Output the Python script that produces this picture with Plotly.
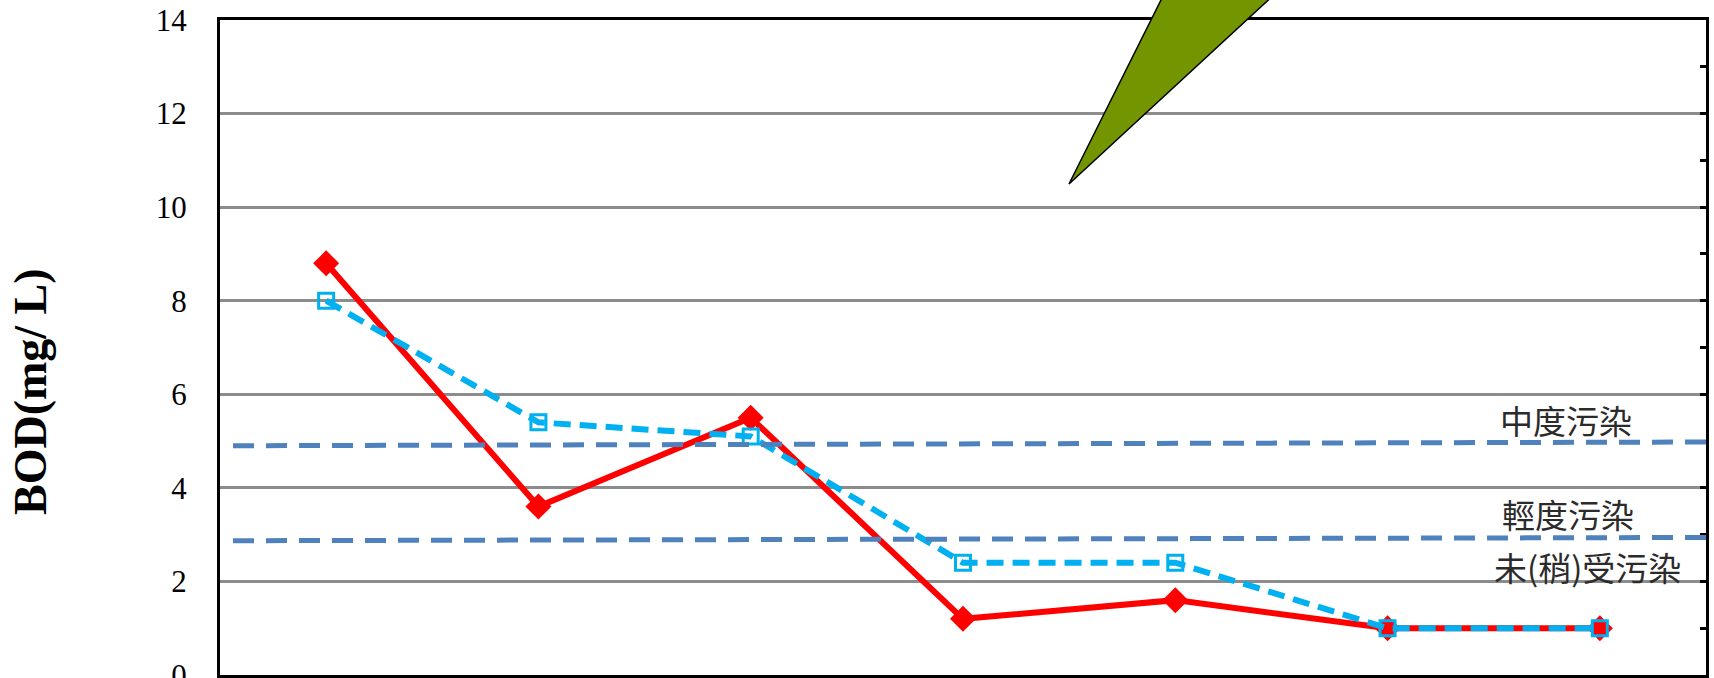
import plotly.graph_objects as go

# Sampling stations along the river (x positions) and BOD readings (mg/L)
stations = [1, 2, 3, 4, 5, 6, 7]
bod_series_a = [8.8, 3.6, 5.5, 1.2, 1.6, 1.0, 1.0]
bod_series_b = [8.0, 5.4, 5.1, 2.4, 2.4, 1.0, 1.0]

# Pollution-class boundaries as drawn (left end, right end)
moderate_line = [4.90, 4.98]
light_line = [2.87, 2.94]

# Class labels and where they sit (station position, BOD value)
class_labels = ["中度污染", "輕度污染", "未(稍)受污染"]
class_label_x = [6.84, 6.85, 6.94]
class_label_y = [5.46, 3.45, 2.30]

y_ticks = [0, 2, 4, 6, 8, 10, 12, 14]
y_range = [0, 14]
x_range = [0.5, 7.5]
x_boundaries = [0.5, 1.5, 2.5, 3.5, 4.5, 5.5, 6.5, 7.5]

W, H = 1714, 678
ML, MR, MT, MB = 220, 8, 20, 3

fig = go.Figure()

fig.add_trace(go.Scatter(
    x=stations, y=bod_series_a, mode="lines+markers",
    line=dict(color="#FF0000", width=6),
    marker=dict(symbol="diamond", size=20, color="#FF0000"),
    showlegend=False, cliponaxis=False,
))
fig.add_trace(go.Scatter(
    x=stations, y=bod_series_b, mode="lines+markers",
    line=dict(color="#00B0F0", width=6, dash="17px,9px"),
    marker=dict(symbol="square-open", size=15, color="#00B0F0",
                line=dict(color="#00B0F0", width=3)),
    showlegend=False, cliponaxis=False,
))

# Secondary axis only carries the inner minor ticks on the right frame
fig.add_trace(go.Scatter(x=[None], y=[None], yaxis="y2", showlegend=False))

# Dashed class boundaries, starting just right of the axis and running off the edge
for line_vals in (moderate_line, light_line):
    fig.add_shape(
        type="line", xref="paper", yref="y",
        x0=(233 - ML) / (W - ML - MR), x1=(W - ML) / (W - ML - MR),
        y0=line_vals[0], y1=line_vals[1],
        line=dict(color="#4F81BD", width=5, dash="21px,12px"),
        layer="above",
    )

# Callout pointer coming down from above the frame
pw = W - ML - MR
ph = H - MT - MB
def px(xp):
    return (xp - ML) / pw
def py(yp):
    return (H - MB - yp) / ph
fig.add_shape(
    type="path", xref="paper", yref="paper",
    path=f"M {px(1069)} {py(184)} L {px(1171)} {py(-20)} L {px(1290)} {py(-20)} Z",
    fillcolor="#739600", line=dict(color="#000000", width=1.5),
    layer="above",
)

for txt, xv, yv in zip(class_labels, class_label_x, class_label_y):
    fig.add_annotation(
        x=xv, y=yv, xref="x", yref="y", text=txt, showarrow=False,
        font=dict(family="Noto Sans CJK TC", size=33, color="#2B2B2B"),
        xanchor="center", yanchor="middle",
    )

fig.add_annotation(
    x=px(30), y=py(392), xref="paper", yref="paper",
    text="<b>BOD(mg/ L)</b>", textangle=-90, showarrow=False,
    font=dict(family="Liberation Serif", size=46, color="#000000"),
    xanchor="center", yanchor="middle",
)

fig.update_layout(
    width=W, height=H,
    margin=dict(l=ML, r=MR, t=MT, b=MB, pad=0, autoexpand=False),
    paper_bgcolor="white", plot_bgcolor="white",
    xaxis=dict(
        range=x_range, tickmode="array", tickvals=x_boundaries,
        showticklabels=False, ticks="outside", ticklen=12, tickwidth=2.5,
        tickcolor="#000000", showgrid=False, zeroline=False,
        showline=True, linecolor="#000000", linewidth=3, mirror=True,
        fixedrange=True, automargin=False,
    ),
    yaxis=dict(
        range=y_range, tickmode="array", tickvals=y_ticks,
        ticks="", ticklabelstandoff=24, ticklabeloverflow="allow",
        tickfont=dict(family="Liberation Serif", size=31, color="#000000"),
        showgrid=True, gridcolor="#8C8C8C", gridwidth=2.5, zeroline=False,
        showline=True, linecolor="#000000", linewidth=3, mirror=True,
        fixedrange=True, automargin=False,
    ),
    yaxis2=dict(
        range=y_range, overlaying="y", side="right", dtick=1,
        ticks="inside", ticklen=6, tickwidth=2.5, tickcolor="#000000",
        showticklabels=False, showgrid=False, zeroline=False,
        showline=False, fixedrange=True, automargin=False,
    ),
)

fig.write_html("out.html")
